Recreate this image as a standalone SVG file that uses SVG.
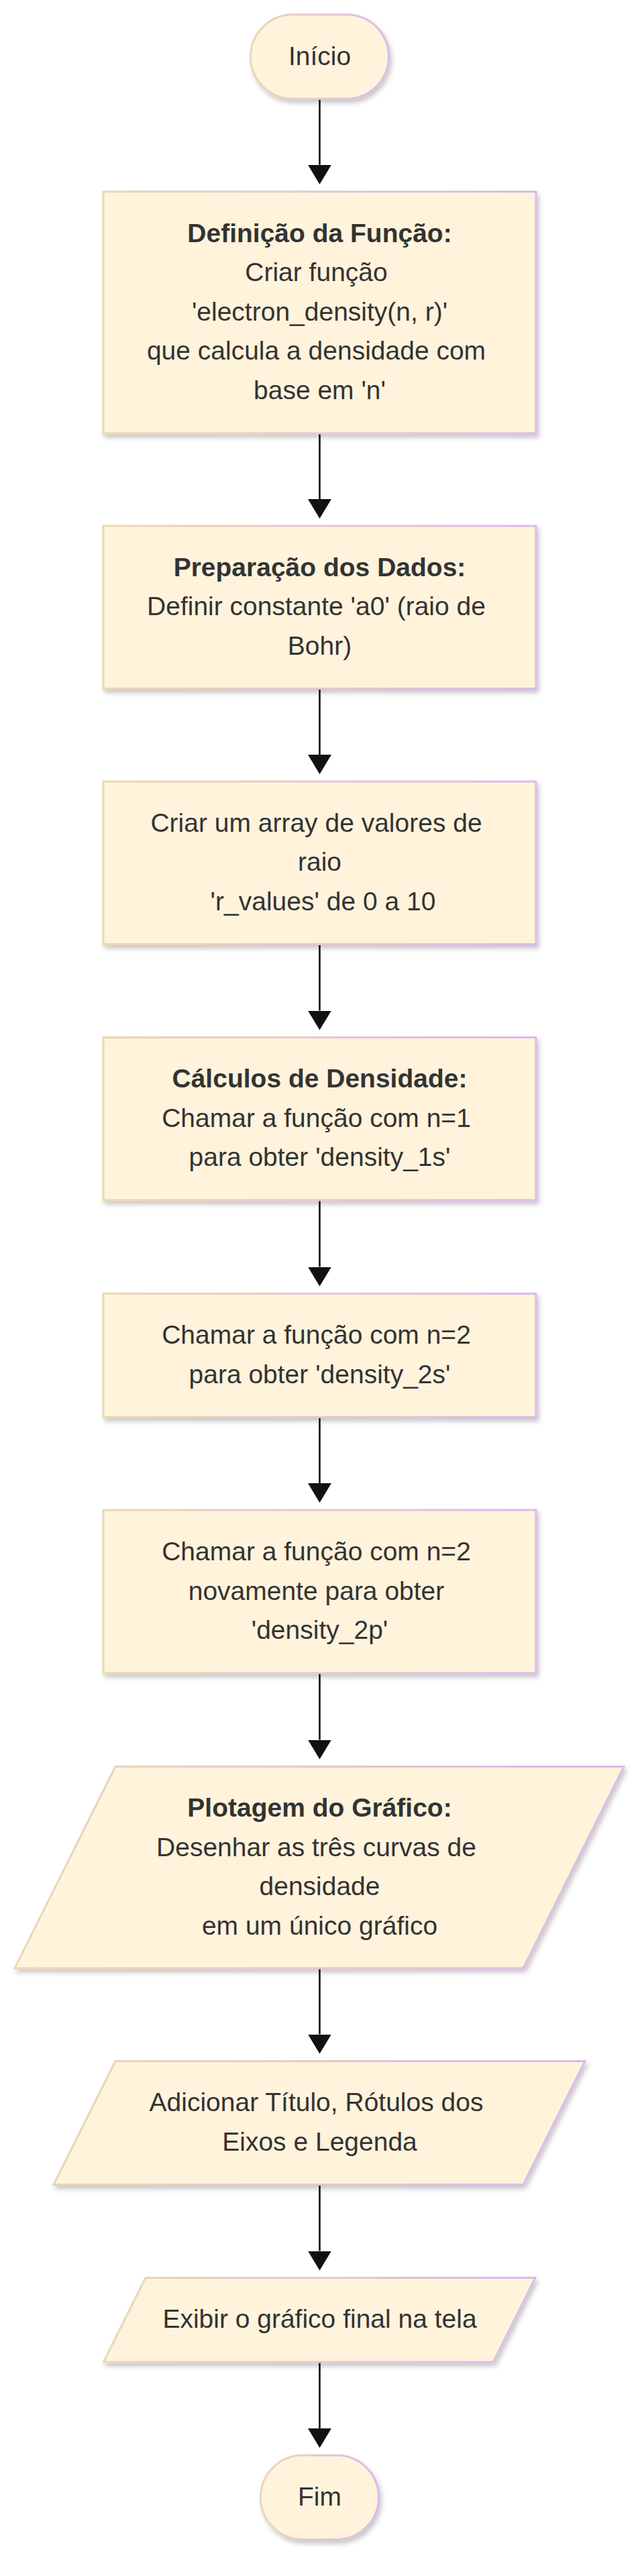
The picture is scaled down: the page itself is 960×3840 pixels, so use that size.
<svg xmlns="http://www.w3.org/2000/svg" width="960" height="3840" viewBox="0 0 960 3840">
  <defs>
    <linearGradient id="edge" x1="0" y1="0" x2="1" y2="0">
      <stop offset="0" stop-color="#ebd8b3"/>
      <stop offset="1" stop-color="#dcb8ec"/>
    </linearGradient>
    <filter id="shadow" x="-10%" y="-10%" width="125%" height="130%">
      <feDropShadow dx="3" dy="5" stdDeviation="3.5" flood-color="#000" flood-opacity="0.22"/>
    </filter>
    <marker id="arrow" viewBox="0 0 29 35" refX="0" refY="17.5" markerWidth="29" markerHeight="35" markerUnits="userSpaceOnUse" orient="auto">
      <path d="M0,0 L29,17.5 L0,35 z" fill="#111"/>
    </marker>
  </defs>
  <style>
    .shape { fill: #fff3dc; stroke: url(#edge); stroke-width: 3; filter: url(#shadow); }
    .t { font-family: "Liberation Sans", Arial, sans-serif; font-size: 39px; fill: #333; text-anchor: middle; }
    .b { font-weight: bold; }
    .edge { fill: none; stroke: #111; stroke-width: 2.6; marker-end: url(#arrow); }
  </style>
  <rect width="960" height="3840" fill="#ffffff"/>

  <g id="connectors">
    <path class="edge" d="M476.5,148 L476.5,245.7"/>
    <path class="edge" d="M476.5,647 L476.5,744"/>
    <path class="edge" d="M476.5,1027.5 L476.5,1125"/>
    <path class="edge" d="M476.5,1408.5 L476.5,1506.5"/>
    <path class="edge" d="M476.5,1790 L476.5,1888.5"/>
    <path class="edge" d="M476.5,2113.5 L476.5,2211"/>
    <path class="edge" d="M476.5,2495 L476.5,2593.5"/>
    <path class="edge" d="M476.5,2935 L476.5,3032.5"/>
    <path class="edge" d="M476.5,3257.5 L476.5,3355.5"/>
    <path class="edge" d="M476.5,3522 L476.5,3620"/>
  </g>

  <g id="inicio">
    <rect class="shape" x="373.5" y="21.7" width="206" height="125.6" rx="62.8" ry="62.8"/>
    <text class="t" x="476.5" y="96.5">Início</text>
  </g>

  <g id="definicao">
    <rect class="shape" x="154" y="285.7" width="645" height="360.3"/>
    <text class="t b" x="476.5" y="360.8">Definição da Função:</text>
    <text class="t" x="471.5" y="419.3">Criar função</text>
    <text class="t" x="476.5" y="477.8">'electron_density(n, r)'</text>
    <text class="t" x="471.5" y="536.3">que calcula a densidade com</text>
    <text class="t" x="476.5" y="594.8">base em 'n'</text>
  </g>

  <g id="preparacao">
    <rect class="shape" x="154" y="784" width="645" height="242.5"/>
    <text class="t b" x="476.5" y="858.8">Preparação dos Dados:</text>
    <text class="t" x="471.5" y="917.3">Definir constante 'a0' (raio de</text>
    <text class="t" x="476.5" y="975.8">Bohr)</text>
  </g>

  <g id="array">
    <rect class="shape" x="154" y="1165" width="645" height="242.5"/>
    <text class="t" x="471.5" y="1239.8">Criar um array de valores de</text>
    <text class="t" x="476.5" y="1298.3">raio</text>
    <text class="t" x="481.5" y="1356.8">'r_values' de 0 a 10</text>
  </g>

  <g id="calculo1s">
    <rect class="shape" x="154" y="1546.5" width="645" height="242.5"/>
    <text class="t b" x="476.5" y="1621.3">Cálculos de Densidade:</text>
    <text class="t" x="471.5" y="1679.8">Chamar a função com n=1</text>
    <text class="t" x="476.5" y="1738.3">para obter 'density_1s'</text>
  </g>

  <g id="calculo2s">
    <rect class="shape" x="154" y="1928.5" width="645" height="184"/>
    <text class="t" x="471.5" y="2003.3">Chamar a função com n=2</text>
    <text class="t" x="476.5" y="2061.8">para obter 'density_2s'</text>
  </g>

  <g id="calculo2p">
    <rect class="shape" x="154" y="2251" width="645" height="243"/>
    <text class="t" x="471.5" y="2326">Chamar a função com n=2</text>
    <text class="t" x="471.5" y="2384.5">novamente para obter</text>
    <text class="t" x="476.5" y="2443">'density_2p'</text>
  </g>

  <g id="plotagem">
    <polygon class="shape" points="172,2633.5 930,2633.5 780,2934 22,2934"/>
    <text class="t b" x="476.5" y="2708">Plotagem do Gráfico:</text>
    <text class="t" x="471.5" y="2766.5">Desenhar as três curvas de</text>
    <text class="t" x="476.5" y="2825">densidade</text>
    <text class="t" x="476.5" y="2883.5">em um único gráfico</text>
  </g>

  <g id="rotulos">
    <polygon class="shape" points="172,3072.5 872,3072.5 780,3256.5 80,3256.5"/>
    <text class="t" x="471.5" y="3147.3">Adicionar Título, Rótulos dos</text>
    <text class="t" x="476.5" y="3205.8">Eixos e Legenda</text>
  </g>

  <g id="exibir">
    <polygon class="shape" points="217,3395.5 798,3395.5 735.3,3521 154.3,3521"/>
    <text class="t" x="476.5" y="3470.3">Exibir o gráfico final na tela</text>
  </g>

  <g id="fim">
    <rect class="shape" x="388.5" y="3660" width="176" height="125.5" rx="62.75" ry="62.75"/>
    <text class="t" x="476.5" y="3734.8">Fim</text>
  </g>
</svg>
